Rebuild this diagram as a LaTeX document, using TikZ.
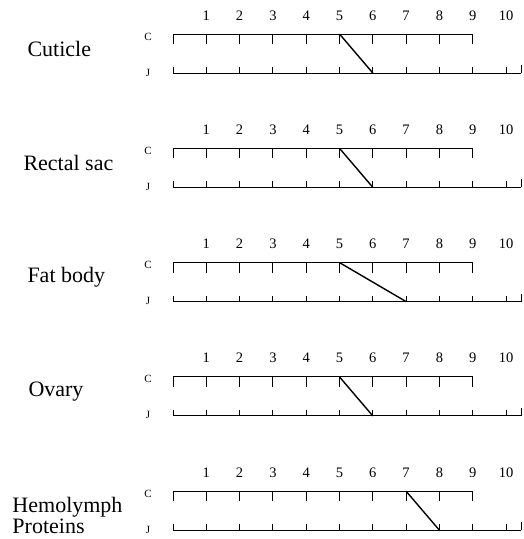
\documentclass[tikz,border=0pt]{standalone}
\usepackage{fontspec}
\setmainfont{Liberation Serif}
\usepackage{tikz}

\begin{document}
\begin{tikzpicture}[x=1pt, y=-1pt, line width=1pt,
      num/.style={font=\fontsize{14.5}{14.5}\selectfont, inner sep=0pt, anchor=base},
      axlab/.style={font=\fontsize{11}{11}\selectfont, inner sep=0pt, anchor=base},
      tissue/.style={font=\fontsize{22}{21}\selectfont, inner sep=0pt, anchor=west, align=left},
      shiftline/.style={line width=1.4pt}]
    \useasboundingbox (0,0) rectangle (523,539);
    \foreach \p/\lx/\ly/\txt/\a/\b in {0/27/49/Cuticle/5/6, 1/23/49/Rectal sac/5/6,
        2/27/49/Fat body/5/7, 3/28/49/Ovary/5/6, 4/12/58/{Hemolymph\\Proteins}/7/8} {
      \begin{scope}[shift={(0,114.3*\p)}]
        % ---- tissue name and row labels
        \node[tissue] (t\p) at (\lx,\ly) {\txt};
        \node[axlab] (lc\p) at (148,40) {C};
        \node[axlab] (lj\p) at (148,76) {J};
        % ---- numbers over the ticks
        \foreach \k in {1,...,10} { \node[num] (n\p-\k) at (173+33.3*\k,20) {\k}; }
        \foreach \k in {0,...,9} { \coordinate (c\p-\k) at (173+33.3*\k,34); }
        \foreach \k in {0,...,10} { \coordinate (j\p-\k) at (173+33.3*\k,73); }
        \coordinate (jend\p) at (521,73);
        % ---- C row, ticks hang down
        \draw (c\p-0) -- (c\p-9);
        \foreach \k in {0,...,9} { \draw (c\p-\k) -- ++(0,10); }
        % ---- J row, ticks stand up
        \draw (j\p-0) -- (jend\p);
        \foreach \k in {0,...,10} { \draw (j\p-\k) -- ++(0,-6); }
        \draw (jend\p) -- ++(0,-8);
        % ---- shift from C to J
        \draw[shiftline] (c\p-\a) -- (j\p-\b);
      \end{scope}
    }
  \end{tikzpicture}
\end{document}
